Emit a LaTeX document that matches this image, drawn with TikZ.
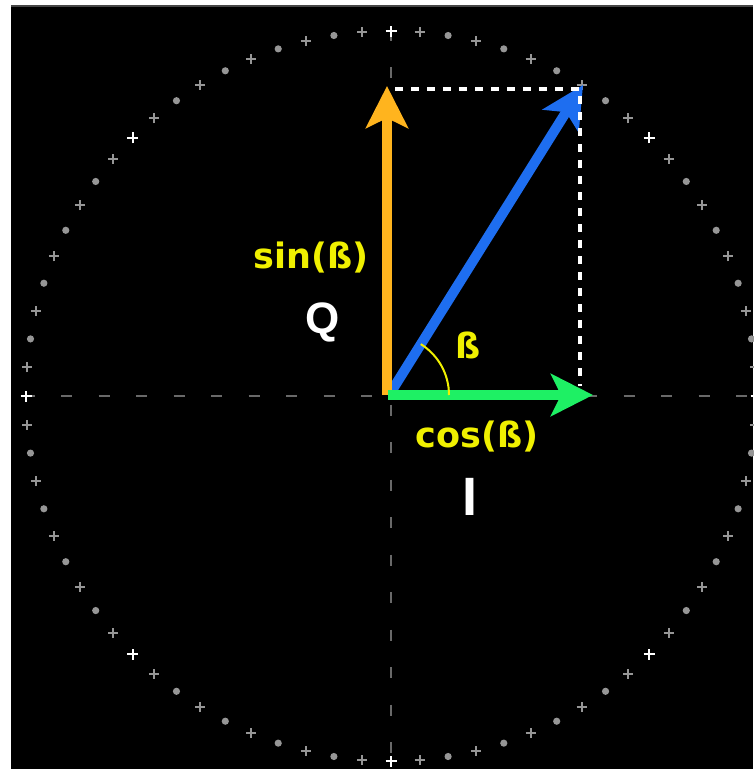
\documentclass[tikz,border=0pt]{standalone}
\usepackage{fontspec}
\setmainfont{DejaVu Sans}
\newfontfamily\arialfont{Liberation Sans}
\usetikzlibrary{arrows.meta}
\definecolor{qorange}{RGB}{255,180,30}
\definecolor{igreen}{RGB}{30,240,100}
\definecolor{vblue}{RGB}{30,110,240}
\definecolor{lyellow}{RGB}{240,240,0}
\definecolor{mgray}{RGB}{150,150,150}
\definecolor{agray}{RGB}{105,105,105}
\definecolor{edgegray}{RGB}{70,70,70}
\begin{document}
\begin{tikzpicture}[x=1pt,y=-1pt,
  vec/.style={line width=10pt,-{Stealth[length=42pt,width=42pt,inset=10pt]}},
  axisline/.style={agray,line width=2pt,dash pattern=on 11pt off 26.5pt},
  proj/.style={white,line width=4pt,dash pattern=on 8pt off 8pt},
  ylabel/.style={text=lyellow,font=\fontsize{35}{40}\selectfont\bfseries,inner sep=0pt,anchor=base},
  wlabel/.style={text=white,inner sep=0pt,anchor=base},
  plusmark/.style={line width=2pt},
]
\useasboundingbox (0,0) rectangle (753,769);
\fill[white] (0,0) rectangle (753,769);
\fill[black] (11,5) rectangle (753,769);
\draw[edgegray,line width=1.5pt] (11,5.75) -- (753,5.75);

% dashed axes
\coordinate (C) at (391,396);
\coordinate (axL) at (23.5,396);
\coordinate (axR) at (753,396);
\coordinate (axT) at (391,29.5);
\coordinate (axB) at (391,769);
\draw[axisline] (axL) -- (axR);
\draw[axisline] (axT) -- (axB);

% circle of markers
\foreach \i in {0,...,79}{
  \pgfmathtruncatemacro\m{mod(\i,10)}
  \pgfmathtruncatemacro\p{mod(\i,2)}
  \coordinate (m\i) at ({391+365*sin(4.5*\i)},{396-365*cos(4.5*\i)});
  \ifnum\m=0
    \draw[white,plusmark] ([xshift=-5.5pt]m\i) -- ([xshift=5.5pt]m\i) ([yshift=-5.5pt]m\i) -- ([yshift=5.5pt]m\i);
  \else
    \ifnum\p=1
      \draw[mgray,plusmark] ([xshift=-5pt]m\i) -- ([xshift=5pt]m\i) ([yshift=-5pt]m\i) -- ([yshift=5pt]m\i);
    \else
      \fill[mgray] (m\i) circle[radius=3.6pt];
    \fi
  \fi
}

% vectors
\coordinate (O) at (389,395);
\coordinate (Ob) at (391,392);
\coordinate (Ptip) at (583,85);
\coordinate (Qbase) at (387,395);
\coordinate (Qtip) at (387,86);
\coordinate (Ibase) at (388,395);
\coordinate (Itip) at (593,395);
\coordinate (R1) at (395,89);
\coordinate (R2) at (580,89);
\coordinate (R3) at (580,386);

\draw[vec,vblue] (Ob) -- (Ptip);
\draw[proj] (R1) -- (R2) -- (R3);
\draw[vec,qorange] (Qbase) -- (Qtip);
\draw[vec,igreen] (Ibase) -- (Itip);

% angle arc
\draw[lyellow,line width=2pt] (O) ++(60,0) arc[start angle=0,end angle=-58,radius=60];

% labels
\node[ylabel] (sinlbl) at (311,268) {sin(ß)};
\node[wlabel,font=\arialfont\bfseries\fontsize{44}{48}\selectfont] (qlbl) at (323,333) {Q};
\node[ylabel] (betalbl) at (468,358) {ß};
\node[ylabel] (coslbl) at (477,447) {cos(ß)};
\node[wlabel,font=\arialfont\bfseries\fontsize{54}{58}\selectfont] (ilbl) at (470,515) {I};
\end{tikzpicture}
\end{document}
